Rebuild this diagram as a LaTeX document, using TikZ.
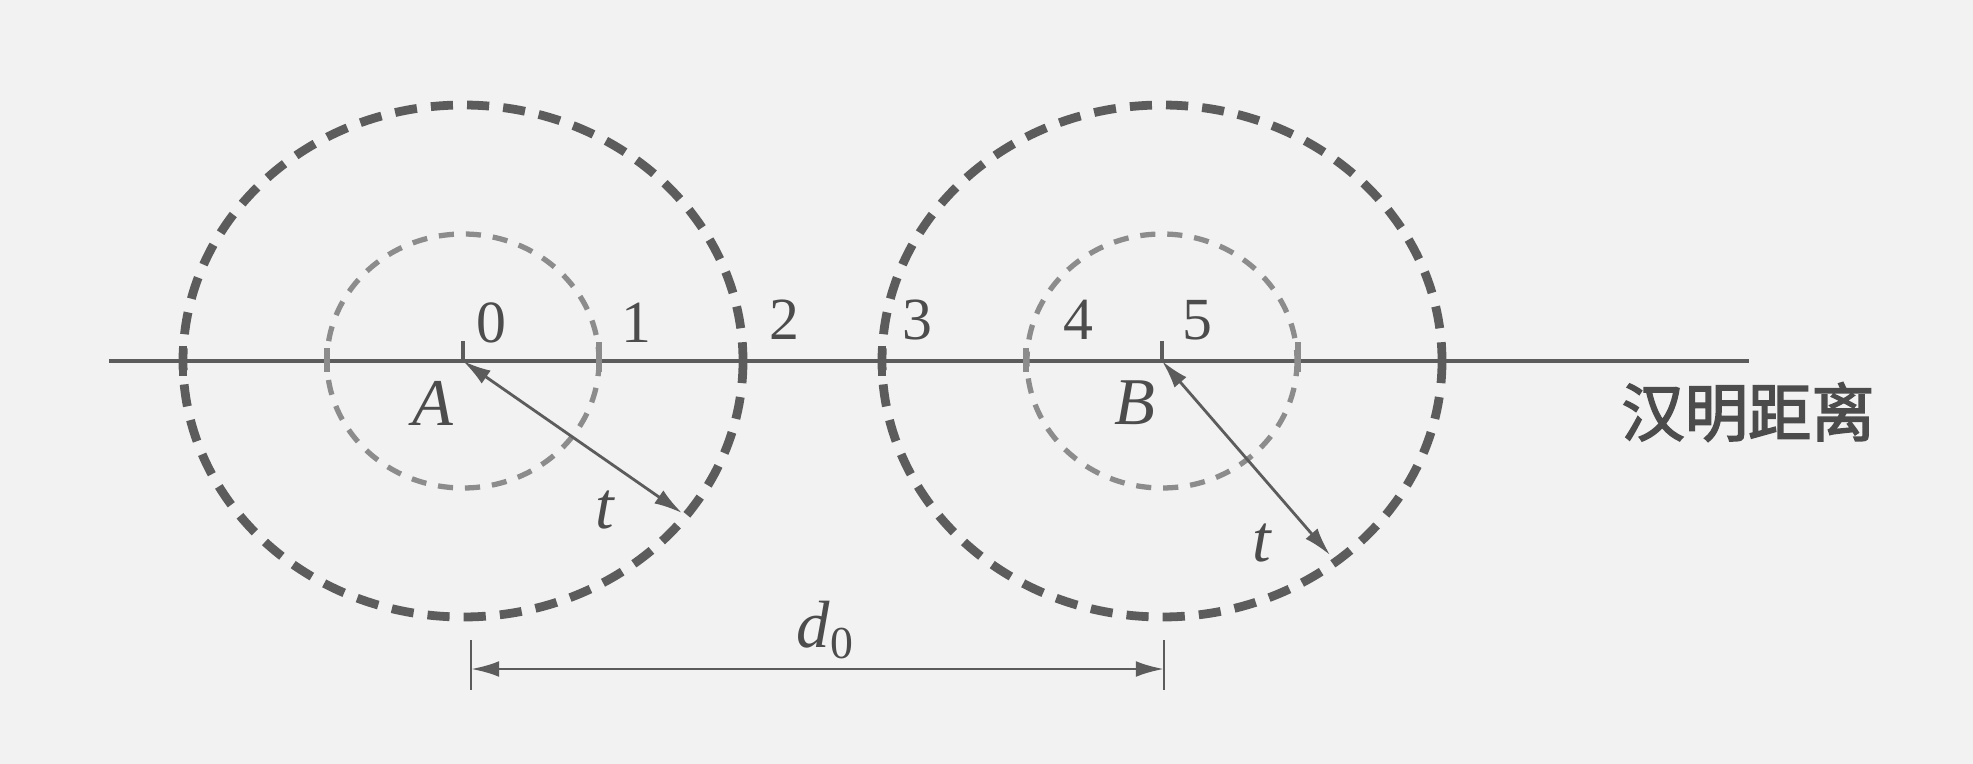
\documentclass[tikz,border=0pt]{standalone}
\usepackage{fontspec}
\setmainfont{Liberation Serif}
\newfontfamily\cjk{Noto Sans CJK SC}[FakeBold=2.5]
\usetikzlibrary{arrows.meta}
\definecolor{paper}{gray}{0.95}
\definecolor{ink}{gray}{0.36}
\definecolor{lightink}{gray}{0.55}
\definecolor{textink}{gray}{0.3}
\begin{document}
\begin{tikzpicture}[
        x=0.01cm, y=-0.01cm,
        >={Latex[length=8pt,width=4.5pt]},
    ]

    \tikzset{bigring/.style = {draw=ink, line width=2.5pt, dash pattern=on 6.3pt off 4pt},
             smallring/.style = {draw=lightink, line width=1.5pt, dash pattern=on 4.3pt off 3.4pt},
             num/.style = {text=textink, inner sep=0pt, font=\fontsize{17}{19}\selectfont},
             pointname/.style = {text=textink, inner sep=0pt, font=\fontsize{19}{21}\selectfont\itshape},
             radius arrow/.style = {<->, draw=ink, line width=0.8pt}}
    \fill[paper] (0,0) rectangle (1973,764);

    % Centres and axis
    \coordinate (A) at (463,361);
    \coordinate (B) at (1162,361);
    \coordinate (axisL) at (109,361);
    \coordinate (axisR) at (1749,361);
    \draw[ink, line width=1pt] (axisL) -- (axisR);

    % Rings
    \draw[bigring] (A) circle[x radius=280, y radius=256];
    \draw[smallring] (A) circle[x radius=136, y radius=127];
    \draw[bigring] (B) circle[x radius=280, y radius=256];
    \draw[smallring] (B) circle[x radius=135, y radius=127];

    % Ticks on the axis
    \draw[ink, line width=1pt] (A) -- ++(0,-20);
    \draw[ink, line width=1pt] (B) -- ++(0,-20);
    \foreach \c in {463,1162} {
        \draw[ink, line width=2.5pt] (\c-280,346) -- (\c-280,376);
        \draw[ink, line width=2.5pt] (\c+280,346) -- (\c+280,376);
        \draw[lightink, line width=1.5pt] (\c-136,348) -- (\c-136,372);
        \draw[lightink, line width=1.5pt] (\c+136,342) -- (\c+136,372);
    }

    % Labels on the axis
    \node[num] (n0) at (491,323) {0};
    \node[num] (n1) at (636,323) {1};
    \node[num] (n2) at (784,320) {2};
    \node[num] (n3) at (917,320) {3};
    \node[num] (n4) at (1078,320) {4};
    \node[num] (n5) at (1197,320) {5};
    \node[pointname] (labA) at (433,403) {A};
    \node[pointname] (labB) at (1135,403) {B};
    \node[text=textink, inner sep=0pt, font=\cjk\fontsize{18}{20}\selectfont]
        (hamming) at (1748,412) {汉明距离};

    % Radius arrows
    \coordinate (rimA) at (682,513);
    \coordinate (rimB) at (1330,555);
    \draw[radius arrow] (A) -- (rimA);
    \draw[radius arrow] (B) -- (rimB);
    \node[pointname] (tA) at (605,510) {t};
    \node[pointname] (tB) at (1262,543) {t};

    % Distance d0
    \coordinate (dA) at (471,669);
    \coordinate (dB) at (1164,669);
    \draw[ink, line width=0.8pt] (471,640) -- (471,690);
    \draw[ink, line width=0.8pt] (1164,640) -- (1164,690);
    \draw[radius arrow] (dA) -- (dB);
    \node[pointname] (dist) at (825,630) {d\textup{\fontsize{13}{15}\selectfont\raisebox{-3pt}{0}}};

    \end{tikzpicture}
\end{document}
